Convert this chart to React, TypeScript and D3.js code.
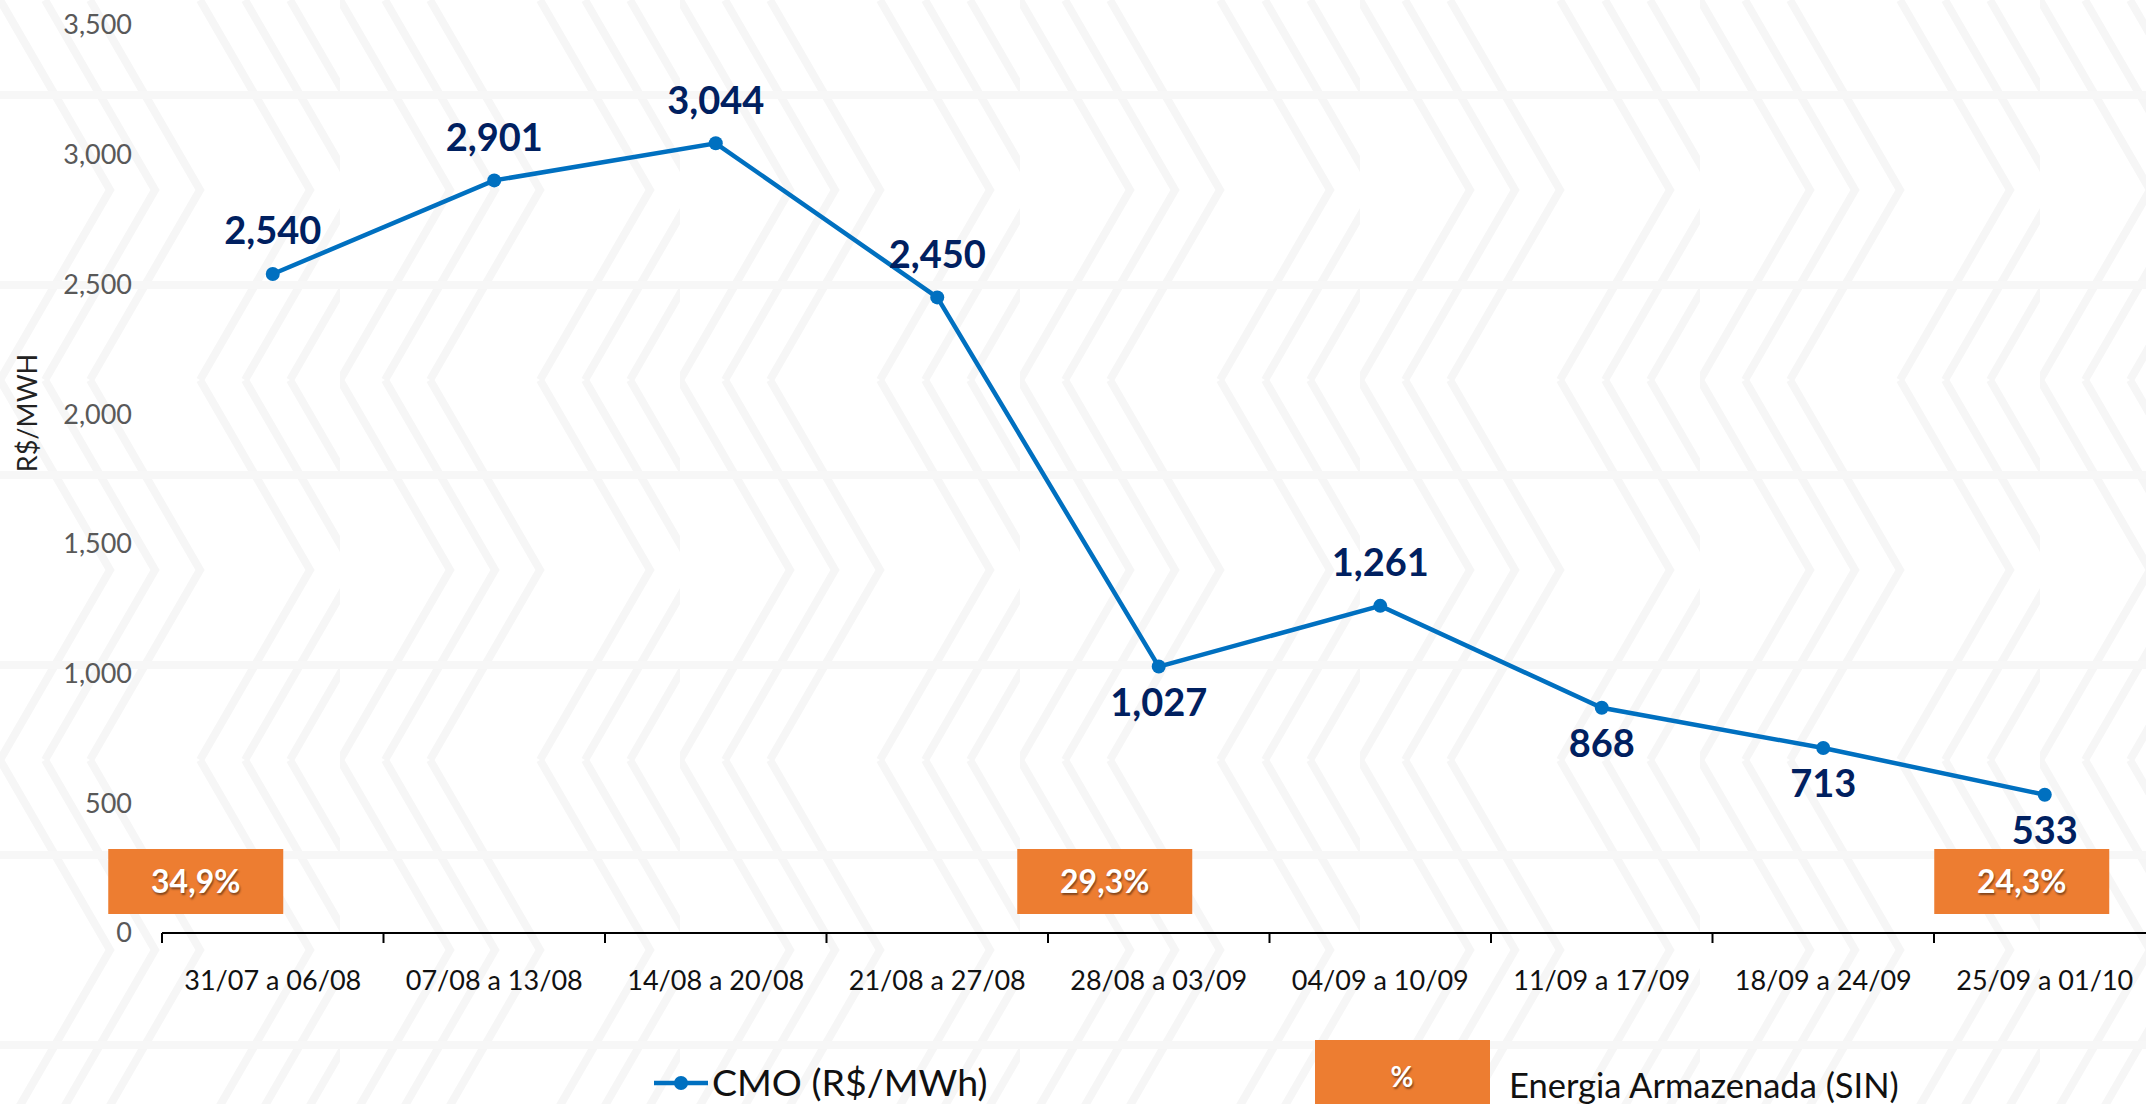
import * as d3 from "d3";
import { useEffect, useRef } from "react";

const categories = [
  "31/07 a 06/08",
  "07/08 a 13/08",
  "14/08 a 20/08",
  "21/08 a 27/08",
  "28/08 a 03/09",
  "04/09 a 10/09",
  "11/09 a 17/09",
  "18/09 a 24/09",
  "25/09 a 01/10",
];
const cmoValues = [2540, 2901, 3044, 2450, 1027, 1261, 868, 713, 533];
const labelBelow = [false, false, false, false, true, false, true, true, true];
const yTicks = [0, 500, 1000, 1500, 2000, 2500, 3000, 3500];
const storageCats = ["31/07 a 06/08", "28/08 a 03/09", "25/09 a 01/10"];
const storageLabels = ["34,9%", "29,3%", "24,3%"];
const storageNudge = [-77, -54, -23];

const W = 2146;
const H = 1104;
const FONT = "Lato, 'Open Sans', sans-serif";

export default function App() {
  const ref = useRef<SVGSVGElement>(null);

  useEffect(() => {
    document.body.style.margin = "0";
    const svg = d3.select(ref.current);
    svg.selectAll("*").remove();

    // faint chevron background
    const defs = svg.append("defs");
    const pat = defs
      .append("pattern")
      .attr("id", "bg")
      .attr("patternUnits", "userSpaceOnUse")
      .attr("width", 340)
      .attr("height", 380);
    [0, 45, 90].forEach((o) => {
      pat
        .append("path")
        .attr("d", `M${o},0 L${o + 110},190 L${o},380`)
        .attr("fill", "none")
        .attr("stroke", "#f6f6f6")
        .attr("stroke-width", 8);
      pat
        .append("path")
        .attr("d", `M${o + 200},0 L${o + 310},190 L${o + 200},380`)
        .attr("fill", "none")
        .attr("stroke", "#f6f6f6")
        .attr("stroke-width", 8);
    });
    pat
      .append("path")
      .attr("d", "M0,95 H340 M0,285 H340")
      .attr("stroke", "#f7f7f7")
      .attr("stroke-width", 8);
    svg.append("rect").attr("width", W).attr("height", H).attr("fill", "#fff");
    svg.append("rect").attr("width", W).attr("height", H).attr("fill", "url(#bg)");

    const x = d3.scaleBand<string>().domain(categories).range([162, 162 + 9 * 221.5]);
    const y = d3.scaleLinear().domain([0, 3500]).range([933, 25]);

    // y tick labels
    svg
      .append("g")
      .selectAll("text")
      .data(yTicks)
      .join("text")
      .attr("x", 132)
      .attr("y", (d) => y(d))
      .attr("dy", "0.35em")
      .attr("text-anchor", "end")
      .attr("font-family", FONT)
      .attr("font-size", 27)
      .attr("fill", "#595959")
      .text((d) => d3.format(",")(d));

    svg
      .append("text")
      .attr("transform", `translate(28,413) rotate(-90)`)
      .attr("text-anchor", "middle")
      .attr("dy", "0.35em")
      .attr("font-family", FONT)
      .attr("font-size", 27)
      .attr("fill", "#222")
      .text("R$/MWH");

    // x axis
    const xAxis = svg.append("g");
    xAxis
      .append("line")
      .attr("x1", 162)
      .attr("x2", W)
      .attr("y1", y(0))
      .attr("y2", y(0))
      .attr("stroke", "#000")
      .attr("stroke-width", 2);
    xAxis
      .selectAll("line.tick")
      .data(categories)
      .join("line")
      .attr("class", "tick")
      .attr("x1", (d) => x(d)!)
      .attr("x2", (d) => x(d)!)
      .attr("y1", y(0))
      .attr("y2", y(0) + 10)
      .attr("stroke", "#000")
      .attr("stroke-width", 2);
    xAxis
      .selectAll("text")
      .data(categories)
      .join("text")
      .attr("x", (d) => x(d)! + x.bandwidth() / 2)
      .attr("y", 981)
      .attr("dy", "0.35em")
      .attr("text-anchor", "middle")
      .attr("font-family", FONT)
      .attr("font-size", 27)
      .attr("fill", "#111")
      .text((d) => d);

    // storage boxes
    const boxes = svg
      .append("g")
      .selectAll("g")
      .data(storageCats)
      .join("g")
      .attr("transform", (d, i) => `translate(${x(d)! + x.bandwidth() / 2 + storageNudge[i]},881)`);
    boxes
      .append("rect")
      .attr("x", -87.5)
      .attr("y", -32)
      .attr("width", 175)
      .attr("height", 65)
      .attr("fill", "#ed7d31");
    boxes
      .append("text")
      .attr("dy", "0.36em")
      .attr("text-anchor", "middle")
      .attr("font-family", FONT)
      .attr("font-weight", 700)
      .attr("font-size", 32)
      .attr("fill", "#fff")
      .style("text-shadow", "1px 2px 2px rgba(0,0,0,0.45)")
      .text((d, i) => storageLabels[i]);

    // CMO line
    const cx = (i: number) => x(categories[i])! + x.bandwidth() / 2;
    const line = d3
      .line<number>()
      .x((d, i) => cx(i))
      .y((d) => y(d));
    svg
      .append("path")
      .datum(cmoValues)
      .attr("d", line)
      .attr("fill", "none")
      .attr("stroke", "#0070c0")
      .attr("stroke-width", 4.5);
    svg
      .append("g")
      .selectAll("circle")
      .data(cmoValues)
      .join("circle")
      .attr("cx", (d, i) => cx(i))
      .attr("cy", (d) => y(d))
      .attr("r", 7)
      .attr("fill", "#0070c0");
    svg
      .append("g")
      .selectAll("text")
      .data(cmoValues)
      .join("text")
      .attr("x", (d, i) => cx(i))
      .attr("y", (d, i) => y(d) + (labelBelow[i] ? 36 : -43))
      .attr("dy", "0.35em")
      .attr("text-anchor", "middle")
      .attr("font-family", FONT)
      .attr("font-weight", 700)
      .attr("font-size", 38)
      .attr("fill", "#002060")
      .text((d) => d3.format(",")(d));

    // legend
    const lg = svg.append("g");
    lg.append("line")
      .attr("x1", 654)
      .attr("x2", 708)
      .attr("y1", 1083)
      .attr("y2", 1083)
      .attr("stroke", "#0070c0")
      .attr("stroke-width", 4.5);
    lg.append("circle").attr("cx", 681).attr("cy", 1083).attr("r", 7).attr("fill", "#0070c0");
    lg.append("text")
      .attr("x", 712)
      .attr("y", 1083)
      .attr("dy", "0.35em")
      .attr("font-family", FONT)
      .attr("font-size", 37.5)
      .attr("fill", "#111")
      .text("CMO (R$/MWh)");
    lg.append("rect")
      .attr("x", 1315)
      .attr("y", 1040)
      .attr("width", 175)
      .attr("height", 70)
      .attr("fill", "#ed7d31");
    lg.append("text")
      .attr("x", 1402)
      .attr("y", 1077)
      .attr("dy", "0.35em")
      .attr("text-anchor", "middle")
      .attr("font-family", FONT)
      .attr("font-weight", 700)
      .attr("font-size", 28)
      .attr("fill", "#fff")
      .style("text-shadow", "1px 2px 2px rgba(0,0,0,0.45)")
      .text("%");
    lg.append("text")
      .attr("x", 1509)
      .attr("y", 1098)
      .attr("font-family", FONT)
      .attr("font-size", 34.5)
      .attr("fill", "#111")
      .text("Energia Armazenada (SIN)");
  }, []);

  return <svg ref={ref} width={W} height={H} style={{ display: "block" }}></svg>;
}
